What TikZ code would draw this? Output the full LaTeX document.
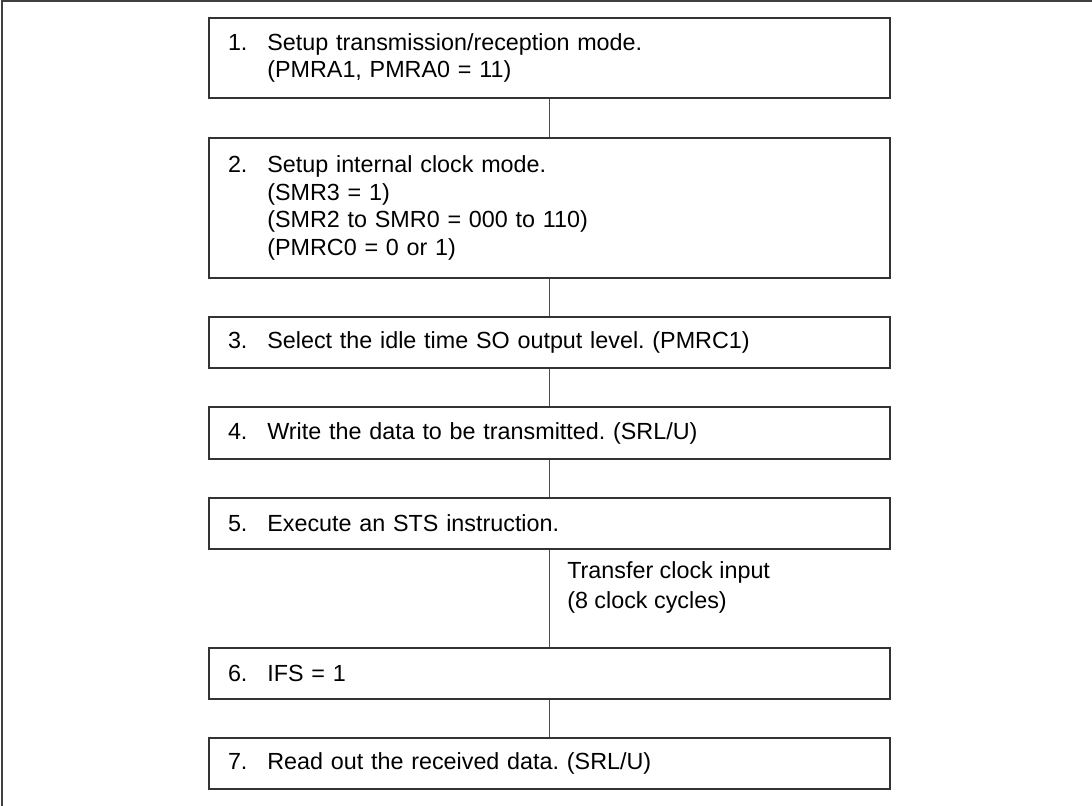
\documentclass[tikz,border=0pt]{standalone}
\usepackage{fontspec}
\setmainfont{Liberation Sans}
\frenchspacing
\begin{document}
\begin{tikzpicture}[x=0.75pt,y=-0.75pt,
  stepbox/.style={draw=black!80, line width=1pt, rectangle, minimum width=510.75pt,
    inner xsep=14.25pt, inner ysep=0pt, text width=482.25pt, align=left,
    font=\fontsize{17.5pt}{20.8pt}\selectfont},
  link/.style={draw=black!70, line width=0.8pt},
  frame/.style={draw=black!75, line width=1pt},
  lbl/.style={align=left, inner sep=0pt, font=\fontsize{17.5pt}{22.5pt}\selectfont}]
\useasboundingbox (0,0) rectangle (1092,806);
\coordinate (fbl) at (2,806);
\coordinate (ftl) at (2,1);
\coordinate (ftr) at (1092,1);
\draw[frame] (fbl) -- (ftl) -- (ftr);
\newcommand{\num}[1]{\makebox[29.5pt][l]{#1}}
\newcommand{\ind}{\hspace*{29.5pt}}
\node[stepbox, minimum height=60pt] (b1) at (549.5,58)
  {\num{1.}Setup transmission/reception mode.\\\ind(PMRA1, PMRA0 = 11)};
\node[stepbox, minimum height=105pt] (b2) at (549.5,208)
  {\num{2.}Setup internal clock mode.\\\ind(SMR3 = 1)\\\ind(SMR2 to SMR0 = 000 to 110)\\\ind(PMRC0 = 0 or 1)};
\node[stepbox, minimum height=38.25pt] (b3) at (549.5,342.5)
  {\num{3.}Select the idle time SO output level. (PMRC1)};
\node[stepbox, minimum height=39pt] (b4) at (549.5,433)
  {\num{4.}Write the data to be transmitted. (SRL/U)};
\node[stepbox, minimum height=38.25pt] (b5) at (549.5,523.5)
  {\num{5.}Execute an STS instruction.};
\node[stepbox, minimum height=38.25pt] (b6) at (549.5,673.5)
  {\num{6.}IFS = 1};
\node[stepbox, minimum height=38.25pt] (b7) at (549.5,763.5)
  {\num{7.}Read out the received data. (SRL/U)};
\draw[link] (b1.south) -- (b2.north);
\draw[link] (b2.south) -- (b3.north);
\draw[link] (b3.south) -- (b4.north);
\draw[link] (b4.south) -- (b5.north);
\draw[link] (b5.south) -- (b6.north);
\draw[link] (b6.south) -- (b7.north);
\node[lbl, anchor=west] (clk) at (567,587) {Transfer clock input\\(8 clock cycles)};
\end{tikzpicture}
\end{document}
